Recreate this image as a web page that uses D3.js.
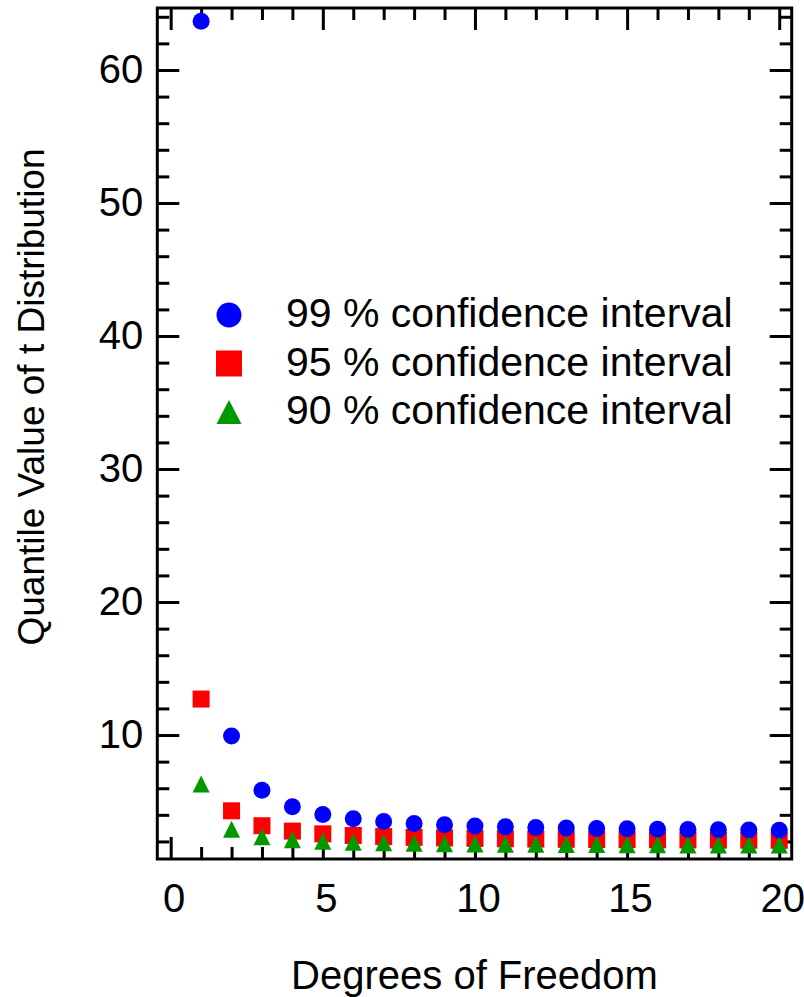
<!DOCTYPE html>
<html>
<head>
<meta charset="utf-8">
<script src="https://cdn.jsdelivr.net/npm/d3@7"></script>
<style>
  body { margin: 0; background: #fff; }
  text { font-family: "Liberation Sans", Arial, sans-serif; fill: #000; }
</style>
</head>
<body>
<svg id="chart"></svg>
<script>
// degrees of freedom 1..20
const df = [1, 2, 3, 4, 5, 6, 7, 8, 9, 10, 11, 12, 13, 14, 15, 16, 17, 18, 19, 20];
const q99 = [63.657, 9.925, 5.841, 4.604, 4.032, 3.707, 3.499, 3.355, 3.250, 3.169,
             3.106, 3.055, 3.012, 2.977, 2.947, 2.921, 2.898, 2.878, 2.861, 2.845];
const q95 = [12.706, 4.303, 3.182, 2.776, 2.571, 2.447, 2.365, 2.306, 2.262, 2.228,
             2.201, 2.179, 2.160, 2.145, 2.131, 2.120, 2.110, 2.101, 2.093, 2.086];
const q90 = [6.314, 2.920, 2.353, 2.132, 2.015, 1.943, 1.895, 1.860, 1.833, 1.812,
             1.796, 1.782, 1.771, 1.761, 1.753, 1.746, 1.740, 1.734, 1.729, 1.725];
const legendLabels = ["99 % confidence interval", "95 % confidence interval", "90 % confidence interval"];
const xMajor = [0, 5, 10, 15, 20];
const yMajor = [10, 20, 30, 40, 50, 60];

const width = 804;
const height = 997;
const margin = { top: 8, right: 12.3, bottom: 138, left: 157.3 };
const innerW = width - margin.left - margin.right;
const innerH = height - margin.top - margin.bottom;

const svg = d3.select("#chart").attr("width", width).attr("height", height);
const g = svg.append("g").attr("transform", `translate(${margin.left},${margin.top})`);

const x = d3.scaleLinear().domain([-0.44, 20.41]).range([0, innerW]);
const y = d3.scaleLinear().domain([0.68, 64.66]).range([innerH, 0]);

const xMinor = d3.range(0, 21, 1).filter(v => !xMajor.includes(v));
const yMinor = d3.range(2, 65, 2).filter(v => !yMajor.includes(v));

function styleAxis(sel) {
  sel.select(".domain").remove();
  sel.selectAll(".tick line").attr("stroke", "#000").attr("stroke-width", 3);
  sel.selectAll("text").style("font-size", "40px").attr("font-family", "Liberation Sans, Arial, sans-serif");
}

// bottom axis
g.append("g")
  .attr("transform", `translate(0,${innerH})`)
  .call(d3.axisBottom(x).tickValues(xMinor).tickSize(-12).tickFormat(""))
  .call(styleAxis);
g.append("g")
  .attr("transform", `translate(0,${innerH})`)
  .call(d3.axisBottom(x).tickValues(xMajor).tickSize(-22).tickPadding(25))
  .call(styleAxis)
  .selectAll("text").attr("dx", 3);
// top axis
g.append("g")
  .call(d3.axisTop(x).tickValues(xMinor).tickSize(-12).tickFormat(""))
  .call(styleAxis);
g.append("g")
  .call(d3.axisTop(x).tickValues(xMajor).tickSize(-22).tickFormat(""))
  .call(styleAxis);
// left axis
g.append("g")
  .call(d3.axisLeft(y).tickValues(yMinor).tickSize(-12).tickFormat(""))
  .call(styleAxis);
g.append("g")
  .call(d3.axisLeft(y).tickValues(yMajor).tickSize(-22).tickPadding(14))
  .call(styleAxis);
// right axis
g.append("g")
  .attr("transform", `translate(${innerW},0)`)
  .call(d3.axisRight(y).tickValues(yMinor).tickSize(-12).tickFormat(""))
  .call(styleAxis);
g.append("g")
  .attr("transform", `translate(${innerW},0)`)
  .call(d3.axisRight(y).tickValues(yMajor).tickSize(-22).tickFormat(""))
  .call(styleAxis);

// frame
g.append("rect")
  .attr("width", innerW)
  .attr("height", innerH)
  .attr("fill", "none")
  .attr("stroke", "#000")
  .attr("stroke-width", 3);

const blue = "#0000ff", red = "#ff0000", green = "#009900";

function triPath(cx, cy, w, h) {
  return `M${cx - w / 2},${cy + h / 2}L${cx + w / 2},${cy + h / 2}L${cx},${cy - h / 2}Z`;
}

// 95% squares
g.append("g").selectAll("rect")
  .data(df)
  .enter()
  .append("rect")
  .attr("x", (d) => x(d) - 8.5)
  .attr("y", (d, i) => y(q95[i]) - 8.5)
  .attr("width", 17)
  .attr("height", 17)
  .attr("fill", red);

// 99% circles
g.append("g").selectAll("circle")
  .data(df)
  .enter()
  .append("circle")
  .attr("cx", (d) => x(d))
  .attr("cy", (d, i) => y(q99[i]))
  .attr("r", 8.5)
  .attr("fill", blue);

// 90% triangles
g.append("g").selectAll("path")
  .data(df)
  .enter()
  .append("path")
  .attr("d", (d, i) => triPath(x(d), y(q90[i]), 17, 17))
  .attr("fill", green);

// legend
const legend = svg.append("g");
const legX = 229, legY0 = 315, legStep = 48.5;
legend.append("circle").attr("cx", legX).attr("cy", legY0).attr("r", 12.5).attr("fill", blue);
legend.append("rect").attr("x", legX - 13).attr("y", legY0 + legStep - 13).attr("width", 26).attr("height", 26).attr("fill", red);
legend.append("path").attr("d", triPath(legX, legY0 + 2 * legStep, 25, 24)).attr("fill", green);
legend.selectAll("text")
  .data(legendLabels)
  .enter()
  .append("text")
  .attr("x", 286)
  .attr("y", (d, i) => legY0 + 12 + i * legStep)
  .style("font-size", "41px")
  .text((d) => d);

// axis titles
svg.append("text")
  .attr("x", margin.left + innerW / 2)
  .attr("y", 989)
  .attr("text-anchor", "middle")
  .style("font-size", "40px")
  .text("Degrees of Freedom");

svg.append("text")
  .attr("transform", "translate(44,397) rotate(-90)")
  .attr("text-anchor", "middle")
  .style("font-size", "37px")
  .text("Quantile Value of t Distribution");
</script>
</body>
</html>
